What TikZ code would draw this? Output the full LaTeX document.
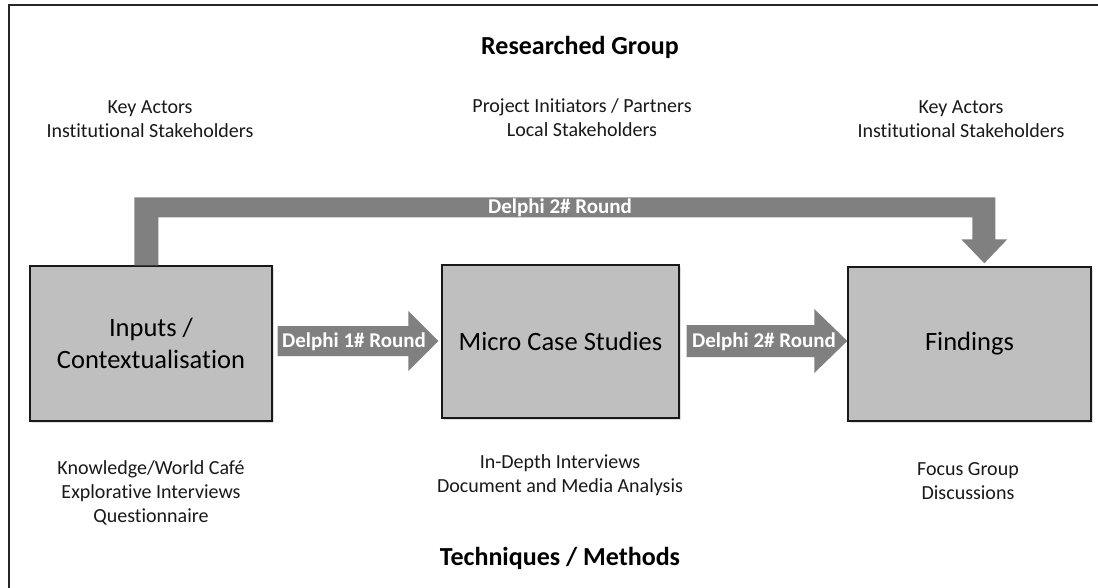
\documentclass[tikz,border=0pt]{standalone}
\usepackage{fontspec}
\setmainfont[Ligatures=NoCommon]{Carlito}
\usetikzlibrary{calc,shadows}
\definecolor{boxgray}{RGB}{191,191,191}
\definecolor{arrgray}{RGB}{128,128,128}
\tikzset{
  stagebox/.style={draw=black!90, line width=1.4pt, fill=boxgray, inner sep=0pt, align=center,
    font=\fontsize{26.5}{32}\selectfont,
    drop shadow={shadow xshift=2pt, shadow yshift=-2pt, opacity=0.25}},
  smalltxt/.style={inner sep=0pt, align=center, font=\fontsize{20}{24}\selectfont, text=black!90},
  headtxt/.style={inner sep=0pt, align=center, font=\fontsize{26}{30}\selectfont\bfseries, text=black},
  arrtxt/.style={inner sep=0pt, text=white, font=\fontsize{21}{25}\selectfont\bfseries},
  arrfill/.style={fill=arrgray, draw=none}
}
\begin{document}
\begin{tikzpicture}[x=1pt,y=-1pt]
\useasboundingbox (0,0) rectangle (1098,588);
\clip (0,0) rectangle (1098,588);
\fill[white] (0,0) rectangle (1098,588);
% frame (right and bottom edges lie outside the picture)
\draw[line width=1.5pt, black!85] (9,5) rectangle (1120,610);

% headings
\node[headtxt] (rg) at (580,47) {Researched Group};
\node[headtxt] (tm) at (560,558) {Techniques / Methods};

% researched group texts
\node[smalltxt] (ra) at (150,119) {Key Actors\\Institutional Stakeholders};
\node[smalltxt] (rb) at (582,118) {Project Initiators / Partners\\Local Stakeholders};
\node[smalltxt] (rc) at (961,119) {Key Actors\\Institutional Stakeholders};

% stage boxes
\node[stagebox, minimum width=242pt, minimum height=155pt] (in) at (151,343.5) {Inputs /\\Contextualisation};
\node[stagebox, minimum width=237pt, minimum height=153pt] (mcs) at (560.5,341.5) {Micro Case Studies};
\node[stagebox, minimum width=243pt, minimum height=154pt] (fi) at (969.5,344) {Findings};

% methods texts
\node[smalltxt] (ma) at (151,493) {Knowledge/World Café\\Explorative Interviews\\Questionnaire};
\node[smalltxt] (mb) at (560,475) {In-Depth Interviews\\Document and Media Analysis};
\node[smalltxt] (mc) at (968,481) {Focus Group\\Discussions};

% arrow 1: inputs -> micro case studies
\coordinate (b0) at ($(in.east)+(5,-2.5)$);
\coordinate (b1) at ($(mcs.west)+(-3,-0.5)$);
\fill[arrfill] ($(b0)+(0,-15)$) -- ($(b1)+(-30,-15)$) -- ($(b1)+(-30,-30)$) -- (b1)
  -- ($(b1)+(-30,30)$) -- ($(b1)+(-30,15)$) -- ($(b0)+(0,15)$) -- cycle;
\node[arrtxt] (d1) at (354,342) {Delphi 1\# Round};

% arrow 2: micro case studies -> findings
\coordinate (c0) at ($(mcs.east)+(7,-0.5)$);
\coordinate (c1) at ($(fi.west)+(0,-3)$);
\fill[arrfill] ($(c0)+(0,-16)$) -- ($(c1)+(-33,-16)$) -- ($(c1)+(-33,-32)$) -- (c1)
  -- ($(c1)+(-33,32)$) -- ($(c1)+(-33,16)$) -- ($(c0)+(0,16)$) -- cycle;
\node[arrtxt] (d2) at (764,342) {Delphi 2\# Round};

% bent arrow: inputs -> findings
\coordinate (a0) at ($(in.north west)+(105,0)$);
\coordinate (a1) at ($(fi.north west)+(137,-3)$);
\fill[arrfill] (a0) -- ($(a0)+(0,-68)$) -- ($(a1)+(11,-66)$) -- ($(a1)+(11,-24)$)
  -- ($(a1)+(23,-24)$) -- (a1) -- ($(a1)+(-23,-24)$) -- ($(a1)+(-12,-24)$)
  -- ($(a1)+(-12,-46)$) -- ($(a0)+(24,-48)$) -- ($(a0)+(24,0)$) -- cycle;
\node[arrtxt] (d3) at (560,208) {Delphi 2\# Round};
\end{tikzpicture}
\end{document}
